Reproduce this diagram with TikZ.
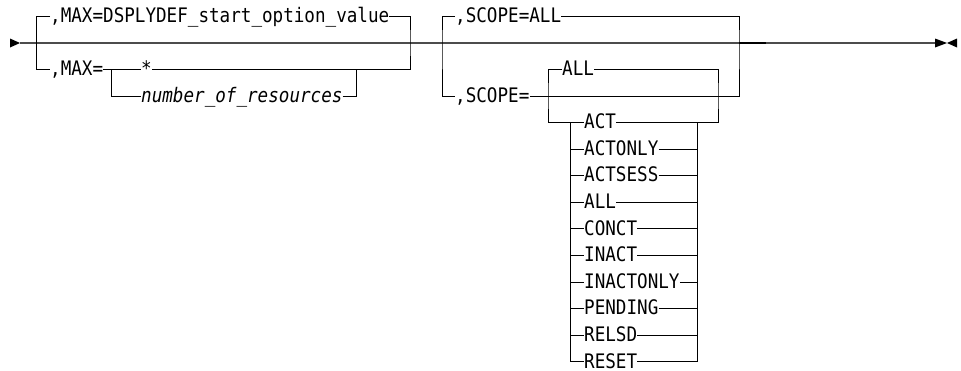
\documentclass[tikz,border=0pt]{standalone}
\usepackage{fontspec}
\newfontfamily\railfont[FakeStretch=0.88]{DejaVu Sans Mono}
\usetikzlibrary{positioning, arrows.meta}
\tikzset{
    rail/.style={draw=black, line width=0.9pt},
    mainrail/.style={draw=black!70, line width=1.2pt},
    keyword/.style={font={\railfont\fontsize{20pt}{20pt}\selectfont}, anchor=west, inner sep=0pt, text height=12.4pt, text depth=0pt},
    varword/.style={keyword, font={\railfont\itshape\fontsize{20pt}{20pt}\selectfont}},
    railtip/.style={fill=black}
}

\begin{document}
\begin{tikzpicture}[x=1pt, y=-1pt]
        \useasboundingbox (0,0) rectangle (961,370);

        % main line with start and end tips
        \coordinate (in) at (20,43);
        \coordinate (out) at (935,43);
        \draw [mainrail] (in) -- (out);
        \fill [railtip] (10,38.5) -- (in) -- (10,47.5) -- cycle;
        \fill [railtip] (935,38.5) -- (947,43) -- (935,47.5) -- cycle;
        \fill [railtip] (957,38.5) -- (947,43) -- (957,47.5) -- cycle;

        % MAX group
        \node (maxdef) [keyword] at (50,16) {,MAX=DSPLYDEF\_start\_option\_value};
        \node (max) [keyword] at (50,69) {,MAX=};
        \node (star) [keyword] at (141,69) {*};
        \node (nres) [varword] at (141,96) {number\_of\_resources};
        \coordinate (g1l) at (36.7,43);
        \coordinate (g1r) at (410,43);
        \coordinate (s1l) at (111,69);
        \coordinate (s1r) at (356,69);

        \draw [rail] (maxdef.west) -| (g1l) |- (max.west);
        \draw [rail] (maxdef.east) -| (g1r) |- (star.east);
        \draw [rail] (max.east) -- (star.west);
        \draw [rail] (s1l) |- (nres.west);
        \draw [rail] (nres.east) -| (s1r);

        % SCOPE group
        \node (scopeall) [keyword] at (455,16) {,SCOPE=ALL};
        \node (scope) [keyword] at (455,96) {,SCOPE=};
        \node (all) [keyword] at (562,69) {ALL};
        \node (act) [keyword] at (584,122.5) {ACT};
        \coordinate (g2l) at (442,43);
        \coordinate (g2r) at (739,43);
        \coordinate (s2l) at (548,96);
        \coordinate (s2r) at (718,96);
        \coordinate (l1) at (570,122.5);
        \coordinate (r1) at (697,122.5);

        \draw [rail] (scopeall.west) -| (g2l) |- (scope.west);
        \draw [rail] (scopeall.east) -| (g2r) |- (scope.east);
        \draw [rail] (all.west) -| (s2l) |- (act.west);
        \draw [rail] (all.east) -| (s2r) |- (act.east);
        \draw [line width=1.6pt] (g2r) -- ++(27,0);

        \foreach \opt [count=\i] in {ACTONLY, ACTSESS, ALL, CONCT, INACT, INACTONLY, PENDING, RELSD, RESET} {
            \node (opt\i) [keyword] at (584,122.5+26.6*\i) {\opt};
            \draw [rail] (l1) |- (opt\i.west);
            \draw [rail] (opt\i.east) -| (r1);
        }
    \end{tikzpicture}
\end{document}
